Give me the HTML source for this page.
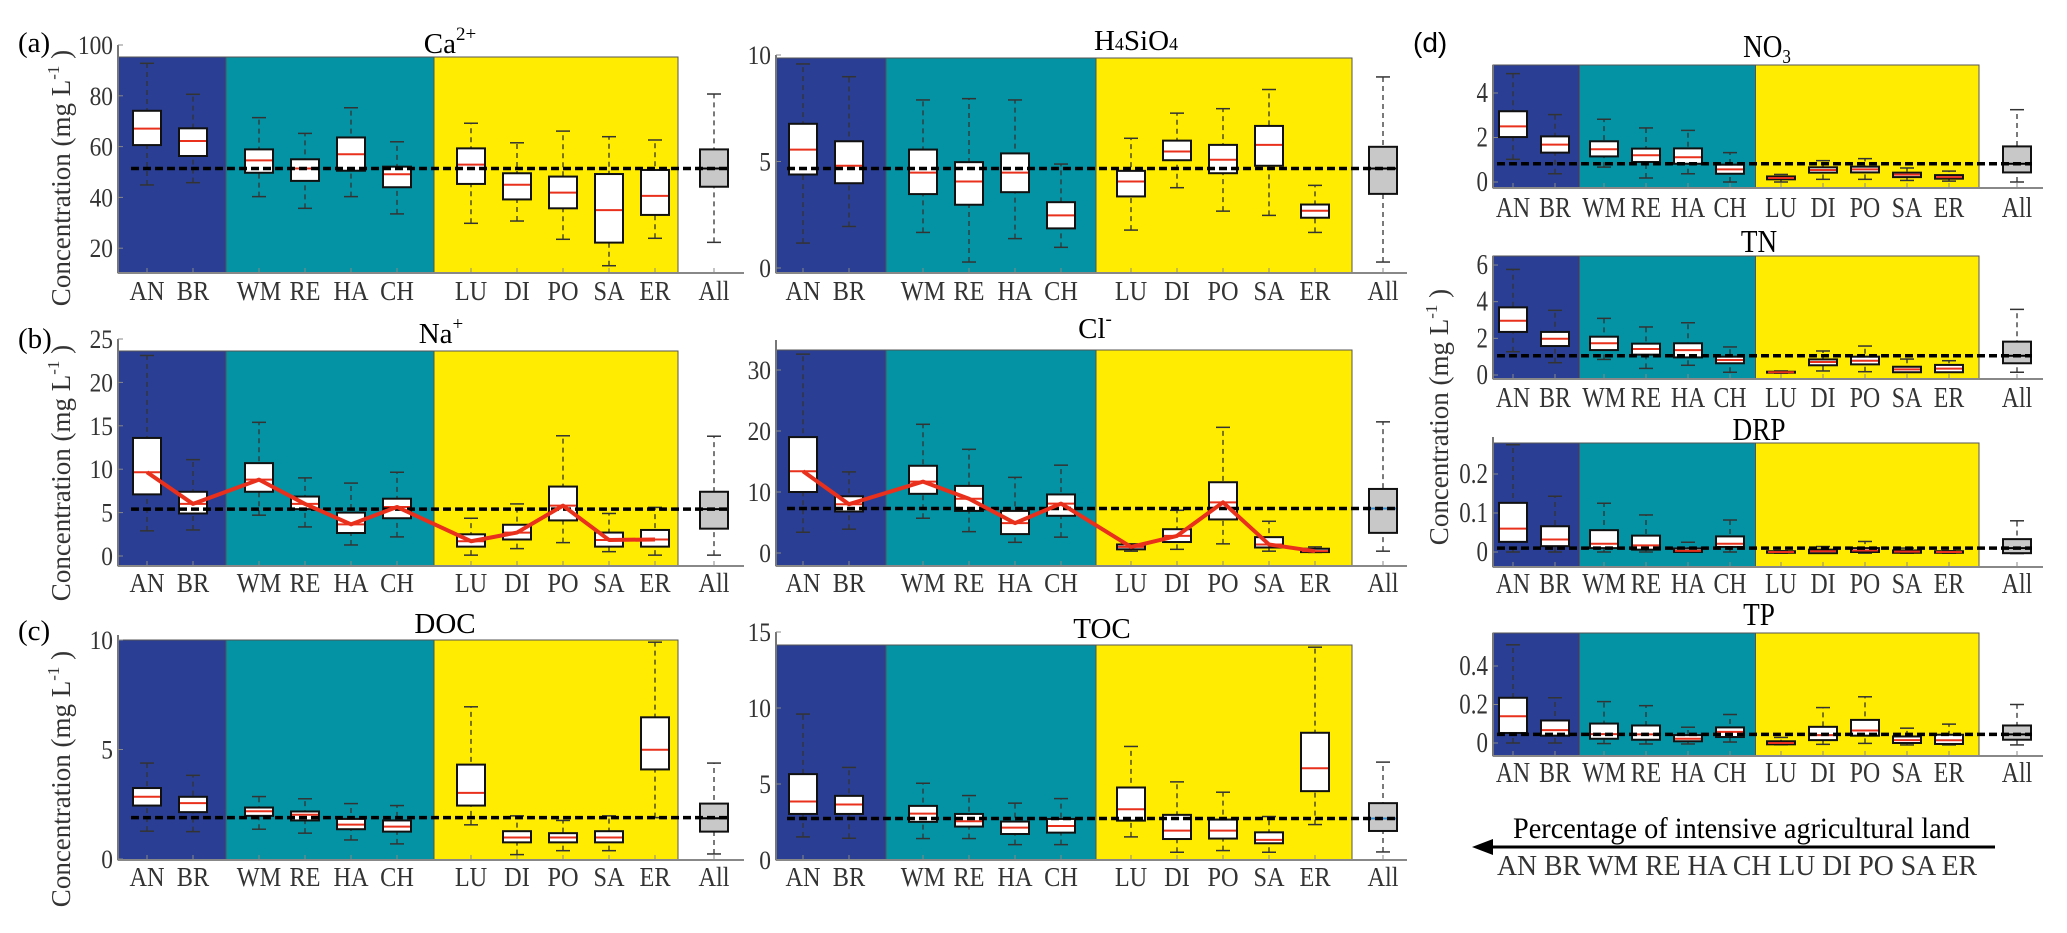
<!DOCTYPE html>
<html><head><meta charset="utf-8"><title>Concentration boxplots</title>
<style>
html,body{margin:0;padding:0;background:#fff;}
svg{display:block;font-family:"Liberation Serif",serif;}
</style></head>
<body>
<svg id="fig" width="2067" height="933" viewBox="0 0 2067 933" xmlns="http://www.w3.org/2000/svg">
  <g id="static">
    <text x="18" y="52" font-size="29">(a)</text>
    <text x="18" y="348" font-size="29">(b)</text>
    <text x="18" y="640" font-size="29">(c)</text>
    <text x="1413" y="52" font-size="28" font-family="Liberation Sans, sans-serif">(d)</text>
    <text transform="translate(70,178) rotate(-90)" text-anchor="middle" font-size="27" fill="#333">Concentration (mg L<tspan font-size="17" dy="-11">-1</tspan><tspan dy="11"> )</tspan></text>
    <text transform="translate(70,473) rotate(-90)" text-anchor="middle" font-size="27" fill="#333">Concentration (mg L<tspan font-size="17" dy="-11">-1</tspan><tspan dy="11"> )</tspan></text>
    <text transform="translate(70,779) rotate(-90)" text-anchor="middle" font-size="27" fill="#333">Concentration (mg L<tspan font-size="17" dy="-11">-1</tspan><tspan dy="11"> )</tspan></text>
    <text transform="translate(1448,417) rotate(-90)" text-anchor="middle" font-size="27" fill="#333">Concentration (mg L<tspan font-size="17" dy="-11">-1</tspan><tspan dy="11"> )</tspan></text>
    <text x="450" y="53" text-anchor="middle" font-size="29">Ca<tspan font-size="19" dy="-13">2+</tspan></text>
    <text x="1136" y="50" text-anchor="middle" font-size="29">H<tspan font-size="18">4</tspan>SiO<tspan font-size="18">4</tspan></text>
    <text x="441" y="343" text-anchor="middle" font-size="29">Na<tspan font-size="19" dy="-13">+</tspan></text>
    <text x="1095" y="338" text-anchor="middle" font-size="29">Cl<tspan font-size="19" dy="-13">-</tspan></text>
    <text x="445" y="633" text-anchor="middle" font-size="29">DOC</text>
    <text x="1102" y="638" text-anchor="middle" font-size="29">TOC</text>
    <text transform="translate(1767,57) scale(0.85,1)" text-anchor="middle" font-size="32">NO<tspan font-size="20" dy="6">3</tspan></text>
    <text transform="translate(1759,252) scale(0.85,1)" text-anchor="middle" font-size="32">TN</text>
    <text transform="translate(1759,440) scale(0.85,1)" text-anchor="middle" font-size="32">DRP</text>
    <text transform="translate(1759,625) scale(0.85,1)" text-anchor="middle" font-size="32">TP</text>
    <text x="1513" y="838" font-size="30" textLength="457" lengthAdjust="spacingAndGlyphs">Percentage of intensive agricultural land</text>
    <line x1="1490" y1="847" x2="1995" y2="847" stroke="#000" stroke-width="3"/>
    <polygon points="1472,847 1493,839 1493,855" fill="#000"/>
    <text x="1497" y="875" font-size="29" textLength="480" lengthAdjust="spacingAndGlyphs" fill="#333">AN BR WM RE HA CH LU DI PO SA ER</text>
  </g>
  <g id="plots"></g>
</svg>
<script>
// ---- data (categories and per-panel box stats [low whisker, q1, median, q3, high whisker]) ----
const categories = ['AN','BR','WM','RE','HA','CH','LU','DI','PO','SA','ER','All'];
const groups = [0,0,1,1,1,1,2,2,2,2,2,3];

const caBoxes = [[44.9,60.6,67.1,74.1,92.8],[45.8,56.3,62.2,67.2,80.6],[40.3,49.7,54.6,58.9,71.4],[35.7,46.5,51.4,55.0,65.2],[40.3,50.5,57.0,63.6,75.3],[33.5,44.0,49.1,52.1,61.9],[29.8,45.3,52.9,59.3,69.2],[30.7,39.2,45.0,49.5,61.5],[23.5,35.7,41.9,48.2,66.1],[13.1,22.2,35.0,49.2,63.9],[23.9,33.1,40.6,50.8,62.6],[22.3,44.2,51.4,58.9,80.7]];
const caRef = 51.4;
const caTicks = [20,40,60,80,100];

const siBoxes = [[1.17,4.39,5.56,6.77,9.58],[1.95,3.98,4.80,5.95,8.98],[1.67,3.47,4.48,5.56,7.89],[0.28,2.97,4.06,4.97,7.95],[1.38,3.56,4.48,5.38,7.89],[0.97,1.86,2.47,3.09,4.88],[1.78,3.36,4.06,4.56,6.09],[3.77,5.06,5.47,5.98,7.27],[2.67,4.45,5.08,5.78,7.48],[2.47,4.80,5.78,6.67,8.38],[1.67,2.36,2.69,2.98,3.88],[0.28,3.48,4.67,5.69,8.97]];
const siRef = 4.67;
const siTicks = [0,5,10];

const naBoxes = [[2.9,7.1,9.65,13.6,23.1],[3.0,4.9,6.0,7.4,11.1],[4.7,7.4,8.8,10.7,15.4],[3.35,5.4,6.0,6.85,9.0],[1.27,2.65,3.65,5.0,8.4],[2.2,4.35,5.65,6.6,9.65],[0.1,1.08,1.7,2.5,4.35],[0.85,1.9,2.7,3.6,6.0],[1.54,4.1,5.8,8.0,13.85],[0.5,1.08,1.85,2.7,4.9],[0.1,1.08,1.9,3.0,5.6],[0.1,3.15,5.4,7.4,13.8]];
const naRef = 5.4;
const naTicks = [0,5,10,15,20,25];

const clBoxes = [[3.4,10.0,13.4,19.0,32.6],[3.9,6.8,8.0,9.3,13.3],[5.7,9.7,11.7,14.3,21.1],[3.5,6.9,8.9,11.0,17.0],[1.75,3.1,4.9,6.9,12.4],[2.6,6.1,8.1,9.6,14.4],[0.3,0.6,1.0,1.4,1.5],[0.6,1.8,2.8,3.9,7.0],[1.5,5.5,8.3,11.6,20.6],[0.3,0.9,1.4,2.6,5.2],[0.1,0.15,0.3,0.7,1.0],[0.3,3.3,7.3,10.5,21.5]];
const clRef = 7.3;
const clTicks = [0,10,20,30];

const docBoxes = [[1.27,2.44,2.84,3.24,4.38],[1.25,2.14,2.55,2.84,3.82],[1.36,1.97,2.18,2.35,2.85],[1.18,1.76,2.02,2.17,2.75],[0.87,1.36,1.57,1.83,2.53],[0.69,1.25,1.48,1.76,2.44],[1.56,2.44,3.02,4.31,6.95],[0.2,0.76,0.98,1.27,1.97],[0.38,0.76,0.98,1.18,1.76],[0.38,0.76,0.98,1.27,1.97],[1.89,4.09,4.99,6.47,9.9],[0.23,1.25,1.86,2.53,4.38]];
const docRef = 1.89;
const docTicks = [0,5,10];

const tocBoxes = [[1.52,3.03,3.85,5.65,9.6],[1.43,3.03,3.65,4.22,6.09],[1.41,2.51,3.05,3.56,5.05],[1.41,2.2,2.55,3.03,4.24],[1.01,1.71,2.13,2.53,3.74],[1.01,1.8,2.24,2.7,4.04],[1.52,2.59,3.34,4.77,7.47],[0.51,1.38,1.93,2.97,5.14],[0.62,1.41,1.93,2.66,4.46],[0.51,1.1,1.32,1.82,2.86],[2.33,4.53,6.04,8.37,14.0],[0.53,1.91,2.73,3.74,6.44]];
const tocRef = 2.73;
const tocTicks = [0,5,10,15];

const no3Boxes = [[1.02,2.02,2.5,3.18,4.87],[0.37,1.32,1.68,2.05,3.03],[0.67,1.15,1.47,1.83,2.82],[0.18,0.9,1.2,1.5,2.43],[0.37,0.82,1.11,1.51,2.32],[0.0,0.37,0.57,0.78,1.32],[0.0,0.12,0.18,0.25,0.34],[0.12,0.42,0.54,0.66,0.96],[0.12,0.43,0.57,0.69,1.05],[0.07,0.22,0.33,0.42,0.63],[0.04,0.15,0.22,0.31,0.49],[0.0,0.43,0.82,1.6,3.25]];
const no3Ref = 0.82;
const no3Ticks = [0,2,4];

const tnBoxes = [[1.27,2.35,2.96,3.69,5.76],[0.67,1.58,1.98,2.35,3.53],[0.85,1.36,1.73,2.09,3.09],[0.36,1.11,1.42,1.71,2.62],[0.53,0.96,1.36,1.73,2.85],[0.15,0.64,0.82,1.0,1.53],[0.1,0.13,0.15,0.18,0.22],[0.22,0.53,0.71,0.85,1.31],[0.18,0.58,0.78,1.0,1.58],[0.15,0.15,0.31,0.45,0.87],[0.15,0.15,0.35,0.55,0.78],[0.15,0.64,1.05,1.82,3.58]];
const tnRef = 1.05;
const tnTicks = [0,2,4,6];

const drpBoxes = [[0.0,0.026,0.06,0.126,0.275],[0.0,0.015,0.032,0.066,0.143],[0.0,0.01,0.021,0.056,0.125],[0.0,0.006,0.017,0.042,0.095],[0.0,0.0,0.003,0.009,0.025],[0.0,0.013,0.021,0.04,0.082],[-0.003,-0.002,0.0,0.002,0.003],[-0.003,-0.003,0.002,0.006,0.014],[-0.003,0.0,0.004,0.01,0.027],[-0.003,-0.002,0.001,0.004,0.01],[-0.003,-0.002,0.0,0.002,0.003],[-0.004,-0.003,0.01,0.033,0.08]];
const drpRef = 0.01;
const drpTicks = [0,0.1,0.2];

const tpBoxes = [[0.0,0.052,0.139,0.235,0.51],[0.0,0.038,0.067,0.117,0.235],[-0.003,0.022,0.046,0.101,0.215],[-0.005,0.017,0.045,0.091,0.194],[-0.005,0.009,0.022,0.041,0.082],[0.005,0.031,0.058,0.081,0.148],[-0.009,-0.007,0.0,0.009,0.029],[-0.007,0.015,0.041,0.084,0.184],[-0.002,0.038,0.065,0.12,0.24],[-0.01,0.0,0.015,0.034,0.077],[-0.01,-0.005,0.014,0.043,0.098],[-0.01,0.017,0.045,0.091,0.2]];
const tpRef = 0.045;
const tpTicks = [0,0.2,0.4];

// ---- layout (not data) ----
const COLS = {
  L:{x0:118,a:29,step:46,gaps:[0,20,48,61],yEnd:560,axEnd:626,fs:27,sx:0.9,tickFs:26},
  R:{x0:776,a:27,step:46,gaps:[0,28,52,74],yEnd:576,axEnd:631,fs:27,sx:0.9,tickFs:26},
  D:{x0:1493,a:20,step:42,gaps:[0,7,16,42],yEnd:486,axEnd:550,fs:29,sx:0.82,tickFs:28}
};
const PANELS = [
  {id:'ca',col:'L',boxes:caBoxes,ref:caRef,ticks:caTicks,zero:299,k:2.54,top:57,bot:273,axTop:45,lab:300,allMed:'#000',line:false},
  {id:'h4sio4',col:'R',boxes:siBoxes,ref:siRef,ticks:siTicks,zero:268,k:21.3,top:58,bot:273,axTop:55,lab:300,allMed:'#000',line:false},
  {id:'na',col:'L',boxes:naBoxes,ref:naRef,ticks:naTicks,zero:556,k:8.68,top:351,bot:566,axTop:339,lab:592,allMed:'#000',line:true},
  {id:'cl',col:'R',boxes:clBoxes,ref:clRef,ticks:clTicks,zero:553,k:6.1,top:350,bot:566,axTop:340,lab:592,allMed:'#2b8fd6',line:true},
  {id:'doc',col:'L',boxes:docBoxes,ref:docRef,ticks:docTicks,zero:859,k:21.9,top:640,bot:860,axTop:635,lab:886,allMed:'#000',line:false},
  {id:'toc',col:'R',boxes:tocBoxes,ref:tocRef,ticks:tocTicks,zero:860,k:15.2,top:645,bot:860,axTop:632,lab:886,allMed:'#2b8fd6',line:false},
  {id:'no3',col:'D',boxes:no3Boxes,ref:no3Ref,ticks:no3Ticks,zero:182,k:22.25,top:65,bot:188,axTop:65,lab:217,allMed:'#000',line:false},
  {id:'tn',col:'D',boxes:tnBoxes,ref:tnRef,ticks:tnTicks,zero:375,k:18.33,top:256,bot:379,axTop:256,lab:407,allMed:'#000',line:false},
  {id:'drp',col:'D',boxes:drpBoxes,ref:drpRef,ticks:drpTicks,zero:552,k:390,top:443,bot:567,axTop:437,lab:593,allMed:'#000',line:false},
  {id:'tp',col:'D',boxes:tpBoxes,ref:tpRef,ticks:tpTicks,zero:743,k:192.5,top:633,bot:756,axTop:633,lab:782,allMed:'#000',line:false}
];
const NS = 'http://www.w3.org/2000/svg';
const root = document.getElementById('plots');
function mk(parent, tag, attrs){
  const el = document.createElementNS(NS, tag);
  for (const key in attrs) el.setAttribute(key, attrs[key]);
  parent.appendChild(el);
  return el;
}
function xScale(c, i){ return c.x0 + c.a + i*c.step + c.gaps[groups[i]]; }

PANELS.forEach(p => {
  const c = COLS[p.col];
  const y = v => p.zero - v*p.k;
  const g = mk(root,'g',{});
  
  
  // background regions
  const b1 = (xScale(c,1)+xScale(c,2))/2, b2 = (xScale(c,5)+xScale(c,6))/2, b3 = c.x0 + c.yEnd;
  const regs = [[c.x0,b1,'#2a3f93','region-natural'],[b1,b2,'#0393a4','region-mixed'],[b2,b3,'#ffec00','region-agricultural']];
  regs.forEach(r => {
    const rect = mk(g,'rect',{x:r[0],y:p.top,width:r[1]-r[0],height:p.bot-p.top,fill:r[2],stroke:'#555','stroke-width':1});
    
    
  });
  // axes
  const ya = mk(g,'line',{x1:c.x0,y1:p.axTop,x2:c.x0,y2:p.bot,stroke:'#777','stroke-width':2});
  
  
  const xa = mk(g,'line',{x1:c.x0,y1:p.bot,x2:c.x0+c.axEnd,y2:p.bot,stroke:'#888','stroke-width':2});
  
  
  // ticks
  p.ticks.forEach(t => {
    const tk = mk(g,'line',{x1:c.x0,y1:y(t),x2:c.x0+5,y2:y(t),stroke:'#888','stroke-width':1});
    
    
    const tl = mk(g,'text',{transform:'translate('+(c.x0-5)+','+(y(t)+9)+') scale('+c.sx+',1)','text-anchor':'end','font-size':c.tickFs,fill:'#333'});
    tl.textContent = String(t);
    
    
  });
  // category labels
  categories.forEach((cat,i) => {
    const cl = mk(g,'text',{transform:'translate('+xScale(c,i)+','+p.lab+') scale('+c.sx+',1)','text-anchor':'middle','font-size':c.fs,fill:'#333'});
    cl.textContent = cat;
    
    
    const xt = mk(g,'line',{x1:xScale(c,i),y1:p.bot,x2:xScale(c,i),y2:p.bot-5,stroke:'#888','stroke-width':1});
    
    
  });
  // boxes
  p.boxes.forEach((s,i) => {
    const x = xScale(c,i), w = 28, cw = 14, isAll = (i === categories.length-1);
    const bg = mk(g,'g',{});
    
    
    const wh = mk(bg,'line',{x1:x,y1:y(s[0]),x2:x,y2:y(s[4]),stroke:'#333','stroke-width':1.3,'stroke-dasharray':'5,4'});
    
    
    [s[0],s[4]].forEach(v => {
      const cap = mk(bg,'line',{x1:x-cw/2,y1:y(v),x2:x+cw/2,y2:y(v),stroke:'#333','stroke-width':1.5});
      
      
    });
    const bx = mk(bg,'rect',{x:x-w/2,y:y(s[3]),width:w,height:Math.max(1,y(s[1])-y(s[3])),fill:isAll?'#c8c8c8':'#fff',stroke:'#111','stroke-width':2});
    
    
    const md = mk(bg,'line',{x1:x-w/2+1,y1:y(s[2]),x2:x+w/2-1,y2:y(s[2]),stroke:isAll?p.allMed:'#e8301c','stroke-width':2});
    
    
  });
  // reference median line
  const rx1 = xScale(c,0) - 16, rx2 = xScale(c,categories.length-1) + 15;
  const rl = mk(g,'line',{x1:rx1,y1:y(p.ref),x2:rx2,y2:y(p.ref),stroke:'#000','stroke-width':3.5,'stroke-dasharray':'8,4'});
  
  
  // connecting median line
  if (p.line) {
    const pts = p.boxes.slice(0, categories.length-1).map((s,i) => xScale(c,i)+','+y(s[2])).join(' ');
    const pl = mk(g,'polyline',{points:pts,fill:'none',stroke:'#e8301c','stroke-width':4,'stroke-linejoin':'round'});
    
    
  }
});
</script>
</body></html>
